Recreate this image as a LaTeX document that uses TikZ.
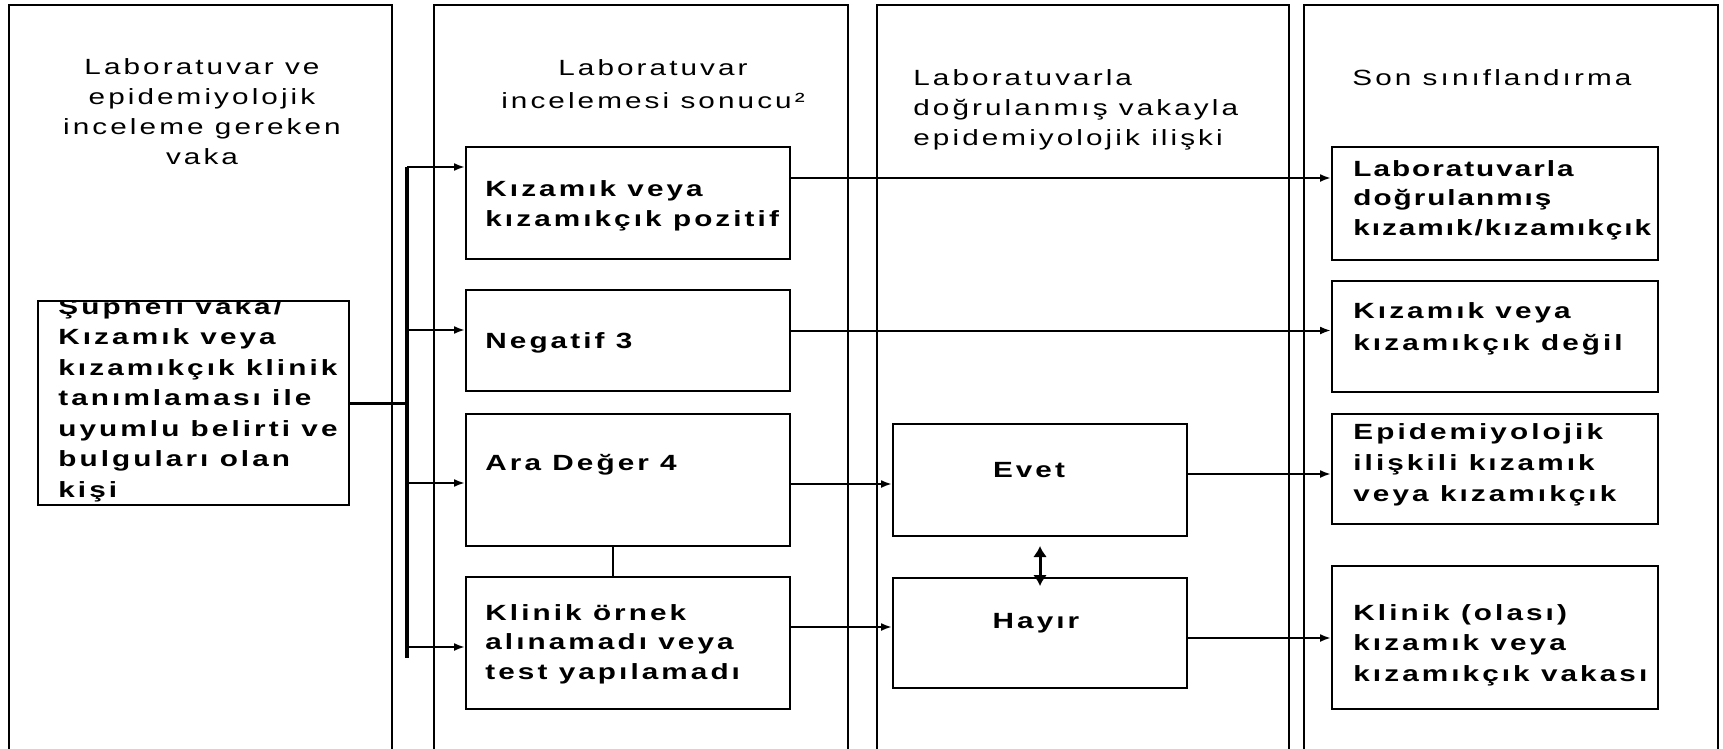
\documentclass[tikz,border=0pt]{standalone}
\usepackage{fontspec}
\setmainfont{Liberation Sans}[FakeStretch=1.35,LetterSpace=14]
\usetikzlibrary{arrows.meta}

\begin{document}
\begin{tikzpicture}[x=0.5pt,y=-0.5pt,
    column/.style={draw, line width=1pt, anchor=north west, inner sep=0pt, minimum height=376pt},
    box/.style={draw, line width=1pt, anchor=north west, inner sep=0pt},
    title/.style={inner sep=0pt, align=center, font=\fontsize{11}{15}\selectfont},
    txt/.style={inner sep=0pt, anchor=north west, align=left, font=\bfseries\fontsize{11}{14.75}\selectfont},
    arr/.style={-{Latex[length=5.5pt,width=4pt]}, line width=1pt}]

            \useasboundingbox (0,0) rectangle (1723,749);

            \node[column, minimum width=191.5pt] (col1) at (8,4) {};
            \node[column, minimum width=207pt] (col2) at (433,4) {};
            \node[column, minimum width=206pt] (col3) at (876,4) {};
            \node[column, minimum width=207pt] (col4) at (1303,4) {};

            \node[title, anchor=north] (t1) at (202,58) {Laboratuvar ve\\epidemiyolojik\\inceleme gereken\\vaka};
            \node[title, anchor=north, font=\fontsize{11}{16.5}\selectfont] (t2) at (653,59) {Laboratuvar\\incelemesi sonucu²};
            \node[title, anchor=north west, align=left] (t3) at (913,69) {Laboratuvarla\\doğrulanmış vakayla\\epidemiyolojik ilişki};
            \node[title, anchor=north west] (t4) at (1352,69) {Son sınıflandırma};

            \node[box, minimum width=155.5pt, minimum height=102pt] (sus) at (37,300) {};
            \begin{scope}
            \clip (sus.north west) rectangle (sus.south east);
            \node[txt, font=\bfseries\fontsize{11}{15.25}\selectfont] (sustxt) at (58,298) {Şüpheli vaka/\\Kızamık veya\\kızamıkçık klinik\\tanımlaması ile\\uyumlu belirti ve\\bulguları olan\\kişi};
            \end{scope}

            \node[box, minimum width=162pt, minimum height=56pt] (pozitif) at (465,146) {};
            \node[box, minimum width=162pt, minimum height=50.5pt] (negatif) at (465,289) {};
            \node[box, minimum width=162pt, minimum height=66pt] (ara) at (465,413) {};
            \node[box, minimum width=162pt, minimum height=66pt] (klinik) at (465,576) {};
            \node[txt, font=\bfseries\fontsize{11}{15}\selectfont] (pozitiftxt) at (485,180) {Kızamık veya\\kızamıkçık pozitif};
            \node[txt] (negatiftxt) at (485,332) {Negatif 3};
            \node[txt] (aratxt) at (485,454) {Ara Değer 4};
            \node[txt] (kliniktxt) at (485,604) {Klinik örnek\\alınamadı veya\\test yapılamadı};

            \node[box, minimum width=147pt, minimum height=56pt] (evet) at (892,423) {};
            \node[box, minimum width=147pt, minimum height=55pt] (hayir) at (892,577) {};
            \node[txt, anchor=north] (evettxt) at (1029,462) {Evet};
            \node[txt, anchor=north] (hayirtxt) at (1036,613) {Hayır};

            \node[box, minimum width=163pt, minimum height=56.5pt] (labdog) at (1331,146) {};
            \node[box, minimum width=163pt, minimum height=55.5pt] (degil) at (1331,280) {};
            \node[box, minimum width=163pt, minimum height=55pt] (epid) at (1331,413) {};
            \node[box, minimum width=163pt, minimum height=71.5pt] (olasi) at (1331,565) {};
            \node[txt, font=\bfseries\fontsize{11}{14.75}\selectfont\addfontfeatures{LetterSpace=9}] (labdogtxt) at (1353,160) {Laboratuvarla\\doğrulanmış\\kızamık/kızamıkçık};
            \node[txt, font=\bfseries\fontsize{11}{16}\selectfont] (degiltxt) at (1353,302) {Kızamık veya\\kızamıkçık değil};
            \node[txt, font=\bfseries\fontsize{11}{15.5}\selectfont] (epidtxt) at (1353,423) {Epidemiyolojik\\ilişkili kızamık\\veya kızamıkçık};
            \node[txt, font=\bfseries\fontsize{11}{15.25}\selectfont] (olasitxt) at (1353,604) {Klinik (olası)\\kızamık veya\\kızamıkçık vakası};

            \coordinate (b1) at (407,167);
            \coordinate (b2) at (407,330);
            \coordinate (b3) at (407,483);
            \coordinate (b4) at (407,647);
            \coordinate (bend) at (407,658);

            \draw[line width=2pt] (b1) -- (bend);
            \draw[line width=1.5pt] (sus.east) -- (sus.east -| b1);
            \draw[arr] (b1) -- (b1 -| pozitif.west);
            \draw[arr] (b2) -- (b2 -| negatif.west);
            \draw[arr] (b3) -- (b3 -| ara.west);
            \draw[arr] (b4) -- (b4 -| klinik.west);

            \draw[arr] ([yshift=12.5pt]pozitif.east) -- ([yshift=12.5pt]pozitif.east -| labdog.west);
            \draw[arr] ([yshift=5pt]negatif.east) -- ([yshift=5pt]negatif.east -| degil.west);
            \draw[arr] ([yshift=-2pt]ara.east) -- ([yshift=-2pt]ara.east -| evet.west);
            \draw[arr] ([yshift=8pt]klinik.east) -- ([yshift=8pt]klinik.east -| hayir.west);
            \draw[arr] ([yshift=3pt]evet.east) -- ([yshift=3pt]evet.east -| epid.west);
            \draw[arr] ([yshift=-2.5pt]hayir.east) -- ([yshift=-2.5pt]hayir.east -| olasi.west);

            \draw[line width=1pt] ([xshift=-7.5pt]ara.south) -- ([xshift=-7.5pt]klinik.north);
            \draw[{Latex[length=5.5pt,width=7pt]}-{Latex[length=5.5pt,width=7pt]}, line width=1.5pt, shorten <=4.5pt, shorten >=-4.5pt] (evet.south) -- (hayir.north);
        \end{tikzpicture}
\end{document}
